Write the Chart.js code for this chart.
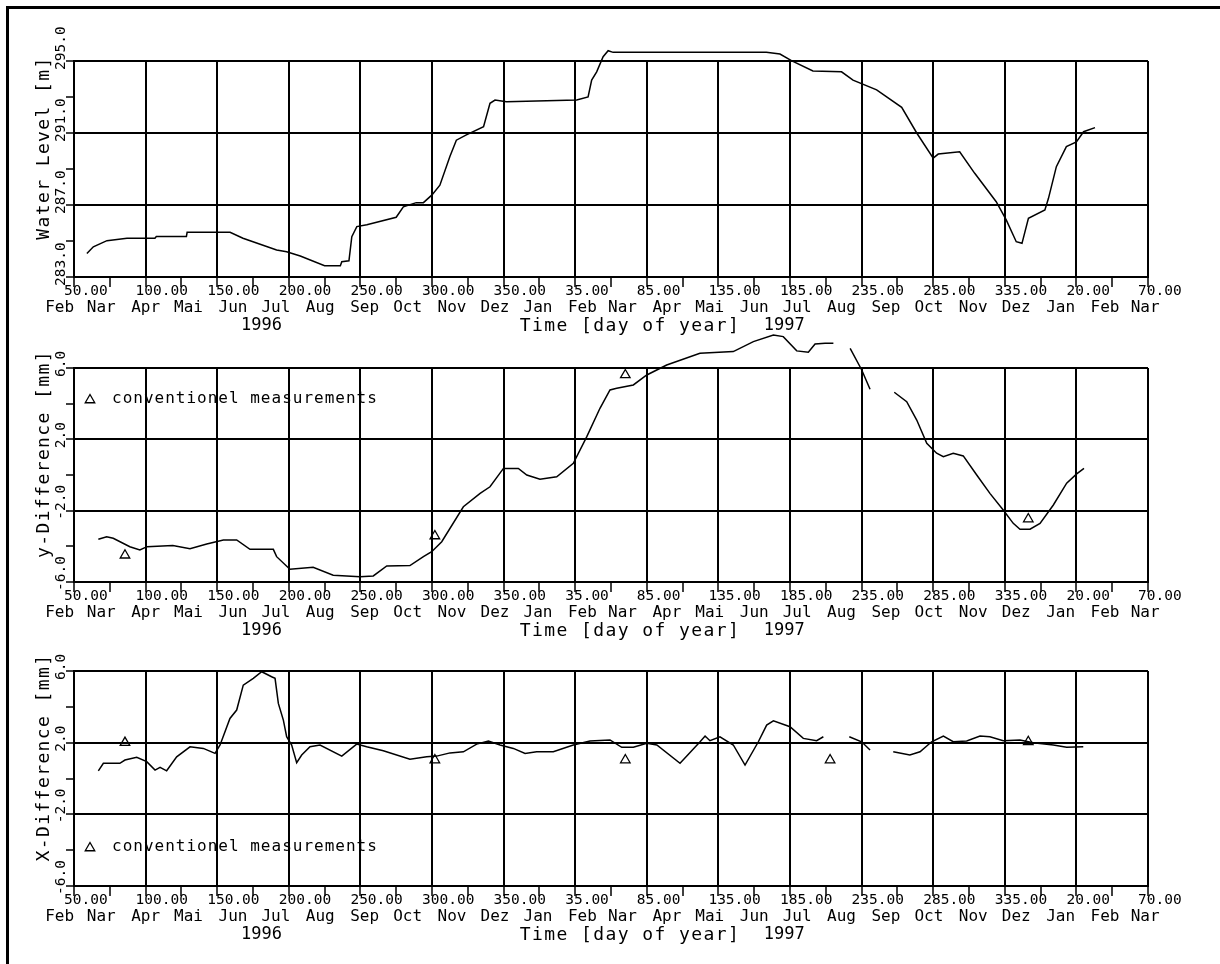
<!DOCTYPE html>
<html>
<head>
<meta charset="utf-8">
<script src="https://cdn.jsdelivr.net/npm/chart.js@4.4.1/dist/chart.umd.min.js"></script>
<style>
  html, body { margin: 0; padding: 0; background: #fff; }
  #page { position: relative; width: 1220px; height: 964px; overflow: hidden; background: #fff; }
  #frame { position: absolute; left: 6px; top: 6px; width: 1400px; height: 1100px; border-left: 3px solid #000; border-top: 3px solid #000; }
  canvas { position: absolute; left: 0; }
</style>
</head>
<body>
<div id="page">
  <div id="frame"></div>
  <canvas id="chartLevel" width="1220" height="340" style="top:0px"></canvas>
  <canvas id="chartYDiff" width="1220" height="315" style="top:330px"></canvas>
  <canvas id="chartXDiff" width="1220" height="334" style="top:630px"></canvas>
</div>
<script>
// x values are running days: 1997 = day + 365, 1998 = day + 730

const levelDays = [
  59, 63.5, 73, 87, 106.5, 107.5, 128.5, 129, 159, 168,
  191.5, 198.5, 208, 225, 236, 237, 242, 244, 247.5, 254.5,
  275, 280, 289, 294, 300, 305.5, 312.5, 317, 324, 336,
  340.5, 344, 352, 401, 409, 411.5, 415, 419.5, 423, 426.5,
  533.5, 543, 551, 566, 586, 594, 610.5, 628, 638.5, 650,
  653.5, 668.5, 679, 694, 701, 708, 712, 716.5, 728, 730.5,
  736, 743, 750, 755, 763,
];
const levelValues = [
  284.3, 284.68, 285.02, 285.15, 285.15, 285.25, 285.25, 285.48, 285.48, 285.15,
  284.5, 284.4, 284.17, 283.63, 283.63, 283.85, 283.9, 285.24, 285.8, 285.9,
  286.32, 286.9, 287.13, 287.13, 287.56, 288.1, 289.7, 290.6, 290.9, 291.35,
  292.65, 292.83, 292.74, 292.83, 293.0, 293.94, 294.4, 295.24, 295.57, 295.48,
  295.48, 295.39, 295.02, 294.45, 294.4, 293.94, 293.4, 292.43, 291.0, 289.6,
  289.83, 289.96, 288.76, 287.18, 286.17, 284.96, 284.87, 286.26, 286.72, 287.37,
  289.13, 290.24, 290.5, 291.07, 291.3,
];

const yDiffDays = [
  67, 72.8, 77.4, 89, 96, 101, 119, 131, 142.7, 154.3,
  163.6, 172.9, 189.2, 191.5, 200.8, 217, 231, 249.7, 259, 268.4,
  284.6, 294, 299.8, 306.8, 321.9, 333.6, 340.5, 349.9, 360.3, 366.2,
  375.4, 387.1, 398.7, 408.1, 417.3, 424.3, 429, 440.6, 450, 463.9,
  487.1, 510.4, 524.4, 538.4, 545.3, 554.7, 562.8, 567.5, 574.5, 580.3,
  586, 592, 600.1, 605.9,
  614,
  622.8, 631.5, 638.5, 645.5, 652.4, 657.1, 664, 671, 680.4, 689.6,
  698.9, 705.9, 710.6, 717.6, 724.6, 733.9, 743.2, 750.2, 755.3,
];
const yDiffValues = [
  -3.6, -3.46, -3.55, -4.02, -4.2, -4.02, -3.96, -4.13, -3.87, -3.64,
  -3.64, -4.17, -4.17, -4.58, -5.29, -5.18, -5.62, -5.7, -5.66, -5.1,
  -5.08, -4.58, -4.3, -3.74, -1.78, -1.03, -0.66, 0.37, 0.37, 0.0,
  -0.24, -0.1, 0.66, 2.15, 3.74, 4.77, 4.86, 5.05, 5.61, 6.17,
  6.83, 6.92, 7.48, 7.85, 7.76, 6.96, 6.88, 7.35, 7.39, 7.39,
  null, 7.1, 5.89, 4.81,
  null,
  4.64, 4.11, 3.08, 1.78, 1.22, 1.03, 1.22, 1.07, 0.0, -1.03,
  -1.96, -2.71, -3.04, -3.04, -2.71, -1.68, -0.46, 0.06, 0.37,
];

const xDiffDays = [
  67, 70.5, 75, 82, 85.6, 93.8, 100.8, 106.6, 110.1, 114.7,
  121.7, 131, 140.3, 148.5, 152, 158.9, 163.6, 168.2, 175.2, 181.1,
  188, 190.4, 192.7, 196.2, 198.5, 202, 205.5, 209, 214.8, 221.8,
  237, 247.4, 254.4, 266, 284.6, 296.3, 303.3, 312.6, 321.9, 331.2,
  339.4, 347.5, 356.8, 365, 373.1, 384.7, 398.7, 410.3, 424.3, 432.5,
  440.6, 450, 457, 473.2, 487.2, 490.7, 494.1, 501.1, 510.4, 518.6,
  527.9, 533.7, 538.4, 550, 559.3, 568.6, 573.3, 582,
  591.4, 600, 605.9,
  614,
  622.1, 633.7, 640.8, 648.9, 657.1, 664, 673.4, 682.7, 689.6, 698.9,
  710.6, 719.9, 733.9, 743.2, 754.8,
];
const xDiffValues = [
  0.43, 0.85, 0.85, 0.85, 1.03, 1.18, 0.94, 0.47, 0.62, 0.43,
  1.21, 1.77, 1.68, 1.4, 1.87, 3.35, 3.82, 5.21, 5.59, 5.96,
  5.68, 5.59, 4.19, 3.26, 2.33, 1.87, 0.88, 1.31, 1.77, 1.87,
  1.25, 1.92, 1.77, 1.55, 1.08, 1.21, 1.25, 1.43, 1.49, 1.92,
  2.09, 1.87, 1.68, 1.4, 1.49, 1.49, 1.87, 2.09, 2.15, 1.74,
  1.74, 1.96, 1.87, 0.85, 2.05, 2.37, 2.11, 2.33, 1.87, 0.75,
  2.05, 2.98, 3.22, 2.89, 2.24, 2.11, 2.33, null,
  2.33, 2.05, 1.59,
  null,
  1.49, 1.31, 1.49, 2.05, 2.37, 2.05, 2.09, 2.37, 2.33, 2.11,
  2.15, 2.0, 1.87, 1.74, 1.77,
];

// conventionel measurements
const convDays = [85.6, 302, 435, 578, 716.4];
const convY = [-4.5, -3.42, 5.61, 7.67, -2.47];
const convX = [2.0, 1.03, 1.03, 1.03, 2.05];

// axis labels
const dayTicks = [50, 100, 150, 200, 250, 300, 350, 400, 450, 500, 550, 600, 650, 700, 750, 800];
const dayTickLabels = [
  "50.00", "100.00", "150.00", "200.00", "250.00", "300.00", "350.00", "35.00",
  "85.00", "135.00", "185.00", "235.00", "285.00", "335.00", "20.00", "70.00",
];
const monthStarts = [
  32, 61, 92, 122, 153, 183, 214, 245, 275, 306, 336,
  366, 397, 425, 456, 486, 517, 547, 578, 609, 639, 670, 700,
  731, 762, 790,
];
const monthNames = [
  "Feb", "Nar", "Apr", "Mai", "Jun", "Jul", "Aug", "Sep", "Oct", "Nov", "Dez",
  "Jan", "Feb", "Nar", "Apr", "Mai", "Jun", "Jul", "Aug", "Sep", "Oct", "Nov", "Dez",
  "Jan", "Feb", "Nar",
];
const yearMids = [181, 546];
const yearLabels = ["1996", "1997"];
const levelTicks = [283, 287, 291, 295];
const diffTicks = [-6, -2, 2, 6];

const MONO = "'DejaVu Sans Mono', monospace";
Chart.defaults.font.family = MONO;
Chart.defaults.color = "#000";

function toPoints(xs, ys) {
  return xs.map(function (x, i) {
    return { x: x, y: ys[i] };
  });
}

// y titles, x title and the little legend are plain text on the canvas
const panelText = {
  id: "panelText",
  afterDraw(chart, args, opts) {
    const ctx = chart.ctx;
    const area = chart.chartArea;

    ctx.save();
    ctx.fillStyle = "#000";
    ctx.font = "18px " + MONO;
    ctx.letterSpacing = "1.4px";
    ctx.textAlign = "center";
    ctx.textBaseline = "middle";
    ctx.translate(44, (area.top + area.bottom) / 2 - 21);
    ctx.rotate(-Math.PI / 2);
    ctx.fillText(opts.yTitle, 0, 0);
    ctx.restore();

    ctx.save();
    ctx.fillStyle = "#000";
    ctx.font = "18px " + MONO;
    ctx.letterSpacing = "1.4px";
    ctx.textAlign = "center";
    ctx.textBaseline = "middle";
    ctx.fillText("Time [day of year]", (area.left + area.right) / 2 + 19, area.bottom + 49);
    ctx.restore();

    if (opts.legendY !== undefined) {
      const ly = opts.legendY >= 0 ? area.top + opts.legendY : area.bottom + opts.legendY;
      ctx.save();
      ctx.strokeStyle = "#000";
      ctx.fillStyle = "rgba(0,0,0,0)";
      ctx.lineWidth = 1.3;
      Chart.helpers.drawPoint(ctx, { pointStyle: "triangle", radius: 5.5, borderWidth: 1.3 }, 90, ly);
      ctx.fillStyle = "#000";
      ctx.font = "16px " + MONO;
      ctx.letterSpacing = "1px";
      ctx.textAlign = "left";
      ctx.textBaseline = "middle";
      ctx.fillText("conventionel measurements", 112, ly - 1);
      ctx.restore();
    }
  },
};

function makePanel(canvasId, cfg) {
  const datasets = [
    {
      label: cfg.yTitle,
      data: toPoints(cfg.days, cfg.values),
      borderColor: "#000",
      borderWidth: 1.5,
      pointRadius: 0,
      tension: 0,
      spanGaps: false,
      clip: false,
    },
  ];

  if (cfg.convValues) {
    datasets.push({
      label: "conventionel measurements",
      data: toPoints(convDays, cfg.convValues),
      showLine: false,
      pointStyle: "triangle",
      pointRadius: 5.5,
      pointBorderWidth: 1.3,
      pointBorderColor: "#000",
      pointBackgroundColor: "rgba(0,0,0,0)",
      clip: false,
    });
  }

  return new Chart(document.getElementById(canvasId), {
    type: "line",
    data: { datasets: datasets },
    options: {
      responsive: false,
      animation: false,
      events: [],
      layout: {
        padding: { left: 61, right: 72, top: cfg.padTop, bottom: cfg.padBottom },
      },
      plugins: {
        legend: { display: false },
        tooltip: { enabled: false },
        panelText: { yTitle: cfg.yTitle, legendY: cfg.legendY },
      },
      scales: {
        x: {
          type: "linear",
          position: "bottom",
          weight: 0,
          min: 50,
          max: 800,
          afterFit: function (scale) {
            scale.height = 21;
          },
          border: { color: "#000", width: 2 },
          grid: {
            color: function (c) {
              return c.tick && dayTicks.includes(c.tick.value) ? "#000" : "rgba(0,0,0,0)";
            },
            lineWidth: 2,
            tickColor: "#000",
            tickLength: 10,
            tickWidth: 1.5,
          },
          ticks: {
            stepSize: 25,
            autoSkip: false,
            minRotation: 0,
            maxRotation: 0,
            align: "start",
            labelOffset: -10,
            padding: -4,
            font: { size: 14.5 },
            callback: function (v) {
              const i = dayTicks.indexOf(v);
              return i >= 0 ? dayTickLabels[i] : "";
            },
          },
        },
        xMonth: {
          type: "linear",
          position: "bottom",
          weight: 1,
          min: 50,
          max: 800,
          afterBuildTicks: function (scale) {
            scale.ticks = monthStarts.map(function (v) {
              return { value: v };
            });
          },
          afterFit: function (scale) {
            scale.height = 17;
          },
          border: { display: false },
          grid: { display: false, drawTicks: false },
          ticks: {
            autoSkip: false,
            minRotation: 0,
            maxRotation: 0,
            align: "start",
            labelOffset: -3,
            padding: 0,
            font: { size: 16 },
            callback: function (v, i) {
              return monthNames[i];
            },
          },
        },
        xYear: {
          type: "linear",
          position: "bottom",
          weight: 2,
          min: 50,
          max: 800,
          afterBuildTicks: function (scale) {
            scale.ticks = yearMids.map(function (v) {
              return { value: v };
            });
          },
          afterFit: function (scale) {
            scale.height = 20;
          },
          border: { display: false },
          grid: { display: false, drawTicks: false },
          ticks: {
            autoSkip: false,
            minRotation: 0,
            maxRotation: 0,
            padding: 0,
            font: { size: 17 },
            callback: function (v, i) {
              return yearLabels[i];
            },
          },
        },
        y: {
          type: "linear",
          position: "left",
          min: cfg.yMin,
          max: cfg.yMax,
          afterFit: function (scale) {
            scale.width = 13;
          },
          border: { color: "#000", width: 2 },
          grid: {
            color: function (c) {
              return c.tick && cfg.yTicks.includes(c.tick.value) ? "#000" : "rgba(0,0,0,0)";
            },
            lineWidth: 2,
            tickColor: "#000",
            tickLength: 8,
            tickWidth: 1.5,
          },
          ticks: {
            stepSize: 2,
            autoSkip: false,
            minRotation: 90,
            maxRotation: 90,
            // mirror keeps the rotated labels from being clipped to the narrow axis box
            mirror: true,
            crossAlign: "near",
            padding: -13,
            labelOffset: 9,
            font: { size: 14.5 },
            callback: function (v) {
              return cfg.yTicks.includes(v) ? v.toFixed(1) : "";
            },
          },
        },
      },
    },
    plugins: [panelText],
  });
}

makePanel("chartLevel", {
  yTitle: "Water Level [m]",
  days: levelDays,
  values: levelValues,
  yMin: 283,
  yMax: 295,
  yTicks: levelTicks,
  padTop: 61,
  padBottom: 5,
});

makePanel("chartYDiff", {
  yTitle: "y-Difference [mm]",
  days: yDiffDays,
  values: yDiffValues,
  convValues: convY,
  yMin: -6,
  yMax: 6,
  yTicks: diffTicks,
  padTop: 38,
  padBottom: 5,
  legendY: 32,
});

makePanel("chartXDiff", {
  yTitle: "X-Difference [mm]",
  days: xDiffDays,
  values: xDiffValues,
  convValues: convX,
  yMin: -6,
  yMax: 6,
  yTicks: diffTicks,
  padTop: 41,
  padBottom: 20,
  legendY: -38,
});
</script>
</body>
</html>
